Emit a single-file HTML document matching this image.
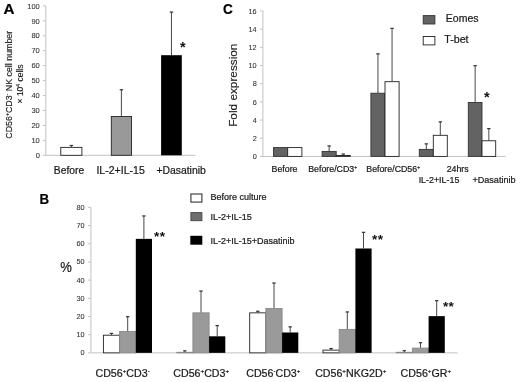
<!DOCTYPE html>
<html><head><meta charset="utf-8"><title>Figure</title>
<style>
html,body{margin:0;padding:0;background:#fff;}
svg{display:block;font-family:"Liberation Sans", Arial, sans-serif;filter:blur(0.35px);}
</style></head>
<body>
<svg width="520" height="382" viewBox="0 0 520 382">
<rect x="0" y="0" width="520" height="382" fill="#fff"/>
<line x1="45.80" y1="5.90" x2="45.80" y2="155.30" stroke="#c2c2c2" stroke-width="1"/>
<line x1="45.80" y1="155.30" x2="195.50" y2="155.30" stroke="#c2c2c2" stroke-width="1"/>
<line x1="42.80" y1="155.30" x2="45.80" y2="155.30" stroke="#c2c2c2" stroke-width="1"/>
<text x="39.80" y="158.00" font-size="7.5" text-anchor="end" font-weight="normal" fill="#333" stroke="#333" stroke-width="0.08" >0</text>
<line x1="42.80" y1="140.36" x2="45.80" y2="140.36" stroke="#c2c2c2" stroke-width="1"/>
<text x="39.80" y="143.06" font-size="7.5" text-anchor="end" font-weight="normal" fill="#333" stroke="#333" stroke-width="0.08" >10</text>
<line x1="42.80" y1="125.42" x2="45.80" y2="125.42" stroke="#c2c2c2" stroke-width="1"/>
<text x="39.80" y="128.12" font-size="7.5" text-anchor="end" font-weight="normal" fill="#333" stroke="#333" stroke-width="0.08" >20</text>
<line x1="42.80" y1="110.48" x2="45.80" y2="110.48" stroke="#c2c2c2" stroke-width="1"/>
<text x="39.80" y="113.18" font-size="7.5" text-anchor="end" font-weight="normal" fill="#333" stroke="#333" stroke-width="0.08" >30</text>
<line x1="42.80" y1="95.54" x2="45.80" y2="95.54" stroke="#c2c2c2" stroke-width="1"/>
<text x="39.80" y="98.24" font-size="7.5" text-anchor="end" font-weight="normal" fill="#333" stroke="#333" stroke-width="0.08" >40</text>
<line x1="42.80" y1="80.60" x2="45.80" y2="80.60" stroke="#c2c2c2" stroke-width="1"/>
<text x="39.80" y="83.30" font-size="7.5" text-anchor="end" font-weight="normal" fill="#333" stroke="#333" stroke-width="0.08" >50</text>
<line x1="42.80" y1="65.66" x2="45.80" y2="65.66" stroke="#c2c2c2" stroke-width="1"/>
<text x="39.80" y="68.36" font-size="7.5" text-anchor="end" font-weight="normal" fill="#333" stroke="#333" stroke-width="0.08" >60</text>
<line x1="42.80" y1="50.72" x2="45.80" y2="50.72" stroke="#c2c2c2" stroke-width="1"/>
<text x="39.80" y="53.42" font-size="7.5" text-anchor="end" font-weight="normal" fill="#333" stroke="#333" stroke-width="0.08" >70</text>
<line x1="42.80" y1="35.78" x2="45.80" y2="35.78" stroke="#c2c2c2" stroke-width="1"/>
<text x="39.80" y="38.48" font-size="7.5" text-anchor="end" font-weight="normal" fill="#333" stroke="#333" stroke-width="0.08" >80</text>
<line x1="42.80" y1="20.84" x2="45.80" y2="20.84" stroke="#c2c2c2" stroke-width="1"/>
<text x="39.80" y="23.54" font-size="7.5" text-anchor="end" font-weight="normal" fill="#333" stroke="#333" stroke-width="0.08" >90</text>
<line x1="42.80" y1="5.90" x2="45.80" y2="5.90" stroke="#c2c2c2" stroke-width="1"/>
<text x="39.80" y="8.60" font-size="7.5" text-anchor="end" font-weight="normal" fill="#333" stroke="#333" stroke-width="0.08" >100</text>
<line x1="71.35" y1="145.29" x2="71.35" y2="147.38" stroke="#333" stroke-width="0.9"/>
<line x1="69.65" y1="145.49" x2="73.05" y2="145.49" stroke="#333" stroke-width="1.2"/>
<rect x="60.80" y="147.38" width="21.10" height="7.92" fill="#fff" stroke="#222" stroke-width="0.9"/>
<line x1="121.40" y1="89.56" x2="121.40" y2="116.46" stroke="#333" stroke-width="0.9"/>
<line x1="119.70" y1="89.76" x2="123.10" y2="89.76" stroke="#333" stroke-width="1.2"/>
<rect x="111.30" y="116.46" width="20.20" height="38.84" fill="#999" stroke="#222" stroke-width="0.9"/>
<line x1="171.45" y1="11.88" x2="171.45" y2="55.20" stroke="#333" stroke-width="0.9"/>
<line x1="169.75" y1="12.08" x2="173.15" y2="12.08" stroke="#333" stroke-width="1.2"/>
<rect x="161.10" y="55.20" width="20.70" height="100.10" fill="#000" stroke="none" stroke-width="0.9"/>
<text x="69.00" y="173.50" font-size="10.3" text-anchor="middle" font-weight="normal" fill="#1a1a1a" stroke="#1a1a1a" stroke-width="0.22" >Before</text>
<text x="120.60" y="173.50" font-size="10.55" text-anchor="middle" font-weight="normal" fill="#1a1a1a" stroke="#1a1a1a" stroke-width="0.22" >IL-2+IL-15</text>
<text x="181.10" y="173.50" font-size="10.4" text-anchor="middle" font-weight="normal" fill="#1a1a1a" stroke="#1a1a1a" stroke-width="0.22" >+Dasatinib</text>
<text x="179.90" y="51.50" font-size="14.5" text-anchor="start" font-weight="bold" fill="#111" stroke="#111" stroke-width="0" >*</text>
<text x="3.50" y="14.30" font-size="15.2" text-anchor="start" font-weight="bold" fill="#000" stroke="#000" stroke-width="0.22" >A</text>
<text transform="translate(11.8,84.75) rotate(-90)" font-size="8.86" text-anchor="middle" fill="#1a1a1a" stroke="#1a1a1a" stroke-width="0.15">CD56<tspan dy="-2.92" font-size="5.14">+</tspan><tspan dy="2.92">CD3</tspan><tspan dy="-2.92" font-size="5.14">-</tspan><tspan dy="2.92"> NK cell number</tspan></text>
<text transform="translate(23.2,84.0) rotate(-90)" font-size="8.5" text-anchor="middle" fill="#1a1a1a" stroke="#1a1a1a" stroke-width="0.15">× 10<tspan dy="-2.81" font-size="4.93">4</tspan><tspan dy="2.81"> cells</tspan></text>
<line x1="262.90" y1="10.96" x2="262.90" y2="156.40" stroke="#c2c2c2" stroke-width="1"/>
<line x1="262.90" y1="156.40" x2="505.70" y2="156.40" stroke="#c2c2c2" stroke-width="1"/>
<line x1="259.90" y1="156.40" x2="262.90" y2="156.40" stroke="#c2c2c2" stroke-width="1"/>
<text x="256.70" y="159.15" font-size="7.3" text-anchor="end" font-weight="normal" fill="#333" stroke="#333" stroke-width="0.08" >0</text>
<line x1="259.90" y1="138.22" x2="262.90" y2="138.22" stroke="#c2c2c2" stroke-width="1"/>
<text x="256.70" y="140.97" font-size="7.3" text-anchor="end" font-weight="normal" fill="#333" stroke="#333" stroke-width="0.08" >2</text>
<line x1="259.90" y1="120.04" x2="262.90" y2="120.04" stroke="#c2c2c2" stroke-width="1"/>
<text x="256.70" y="122.79" font-size="7.3" text-anchor="end" font-weight="normal" fill="#333" stroke="#333" stroke-width="0.08" >4</text>
<line x1="259.90" y1="101.86" x2="262.90" y2="101.86" stroke="#c2c2c2" stroke-width="1"/>
<text x="256.70" y="104.61" font-size="7.3" text-anchor="end" font-weight="normal" fill="#333" stroke="#333" stroke-width="0.08" >6</text>
<line x1="259.90" y1="83.68" x2="262.90" y2="83.68" stroke="#c2c2c2" stroke-width="1"/>
<text x="256.70" y="86.43" font-size="7.3" text-anchor="end" font-weight="normal" fill="#333" stroke="#333" stroke-width="0.08" >8</text>
<line x1="259.90" y1="65.50" x2="262.90" y2="65.50" stroke="#c2c2c2" stroke-width="1"/>
<text x="256.70" y="68.25" font-size="7.3" text-anchor="end" font-weight="normal" fill="#333" stroke="#333" stroke-width="0.08" >10</text>
<line x1="259.90" y1="47.32" x2="262.90" y2="47.32" stroke="#c2c2c2" stroke-width="1"/>
<text x="256.70" y="50.07" font-size="7.3" text-anchor="end" font-weight="normal" fill="#333" stroke="#333" stroke-width="0.08" >12</text>
<line x1="259.90" y1="29.14" x2="262.90" y2="29.14" stroke="#c2c2c2" stroke-width="1"/>
<text x="256.70" y="31.89" font-size="7.3" text-anchor="end" font-weight="normal" fill="#333" stroke="#333" stroke-width="0.08" >14</text>
<line x1="259.90" y1="10.96" x2="262.90" y2="10.96" stroke="#c2c2c2" stroke-width="1"/>
<text x="256.70" y="13.71" font-size="7.3" text-anchor="end" font-weight="normal" fill="#333" stroke="#333" stroke-width="0.08" >16</text>
<rect x="273.50" y="147.58" width="14.20" height="8.82" fill="#636363" stroke="#333" stroke-width="0.9"/>
<rect x="287.70" y="147.58" width="14.20" height="8.82" fill="#fff" stroke="#222" stroke-width="0.9"/>
<line x1="329.15" y1="145.76" x2="329.15" y2="151.40" stroke="#333" stroke-width="0.9"/>
<line x1="327.45" y1="145.96" x2="330.85" y2="145.96" stroke="#333" stroke-width="1.2"/>
<line x1="343.25" y1="153.85" x2="343.25" y2="155.49" stroke="#333" stroke-width="0.9"/>
<line x1="341.55" y1="154.05" x2="344.95" y2="154.05" stroke="#333" stroke-width="1.2"/>
<rect x="322.10" y="151.40" width="14.10" height="5.00" fill="#636363" stroke="#333" stroke-width="0.9"/>
<rect x="336.20" y="155.49" width="14.10" height="0.91" fill="#fff" stroke="#222" stroke-width="0.9"/>
<line x1="377.95" y1="53.68" x2="377.95" y2="93.22" stroke="#333" stroke-width="0.9"/>
<line x1="376.25" y1="53.88" x2="379.65" y2="53.88" stroke="#333" stroke-width="1.2"/>
<line x1="392.05" y1="28.23" x2="392.05" y2="81.68" stroke="#333" stroke-width="0.9"/>
<line x1="390.35" y1="28.43" x2="393.75" y2="28.43" stroke="#333" stroke-width="1.2"/>
<rect x="370.90" y="93.22" width="14.10" height="63.18" fill="#636363" stroke="#333" stroke-width="0.9"/>
<rect x="385.00" y="81.68" width="14.10" height="74.72" fill="#fff" stroke="#222" stroke-width="0.9"/>
<line x1="426.30" y1="143.67" x2="426.30" y2="149.40" stroke="#333" stroke-width="0.9"/>
<line x1="424.60" y1="143.87" x2="428.00" y2="143.87" stroke="#333" stroke-width="1.2"/>
<line x1="440.30" y1="121.68" x2="440.30" y2="135.31" stroke="#333" stroke-width="0.9"/>
<line x1="438.60" y1="121.88" x2="442.00" y2="121.88" stroke="#333" stroke-width="1.2"/>
<rect x="419.30" y="149.40" width="14.00" height="7.00" fill="#636363" stroke="#333" stroke-width="0.9"/>
<rect x="433.30" y="135.31" width="14.00" height="21.09" fill="#fff" stroke="#222" stroke-width="0.9"/>
<line x1="475.15" y1="65.50" x2="475.15" y2="102.50" stroke="#333" stroke-width="0.9"/>
<line x1="473.45" y1="65.70" x2="476.85" y2="65.70" stroke="#333" stroke-width="1.2"/>
<line x1="488.85" y1="128.40" x2="488.85" y2="140.77" stroke="#333" stroke-width="0.9"/>
<line x1="487.15" y1="128.60" x2="490.55" y2="128.60" stroke="#333" stroke-width="1.2"/>
<rect x="468.30" y="102.50" width="13.70" height="53.90" fill="#636363" stroke="#333" stroke-width="0.9"/>
<rect x="482.00" y="140.77" width="13.70" height="15.63" fill="#fff" stroke="#222" stroke-width="0.9"/>
<text x="284.50" y="171.90" font-size="8.8" text-anchor="middle" font-weight="normal" fill="#1a1a1a" stroke="#1a1a1a" stroke-width="0.22" >Before</text>
<text x="332.70" y="171.90" font-size="8.8" text-anchor="middle" font-weight="normal" fill="#1a1a1a" stroke="#1a1a1a" stroke-width="0.22" >Before/CD3<tspan dy="-2.90" font-size="5.10">+</tspan></text>
<text x="393.20" y="171.90" font-size="8.8" text-anchor="middle" font-weight="normal" fill="#1a1a1a" stroke="#1a1a1a" stroke-width="0.22" >Before/CD56<tspan dy="-2.90" font-size="5.10">+</tspan></text>
<text x="457.70" y="172.00" font-size="8.8" text-anchor="middle" font-weight="normal" fill="#1a1a1a" stroke="#1a1a1a" stroke-width="0.22" >24hrs</text>
<text x="439.00" y="182.80" font-size="8.9" text-anchor="middle" font-weight="normal" fill="#1a1a1a" stroke="#1a1a1a" stroke-width="0.22" >IL-2+IL-15</text>
<text x="494.00" y="182.80" font-size="9.1" text-anchor="middle" font-weight="normal" fill="#1a1a1a" stroke="#1a1a1a" stroke-width="0.22" >+Dasatinib</text>
<text x="484.10" y="101.50" font-size="14.5" text-anchor="start" font-weight="bold" fill="#111" stroke="#111" stroke-width="0" >*</text>
<text x="222.90" y="14.30" font-size="14.8" text-anchor="start" font-weight="bold" fill="#000" stroke="#000" stroke-width="0.22" textLength="9.8" lengthAdjust="spacingAndGlyphs">C</text>
<text transform="translate(237.3,85.2) rotate(-90)" font-size="11.8" text-anchor="middle" fill="#1a1a1a" stroke="#1a1a1a" stroke-width="0.15">Fold expression</text>
<rect x="423.20" y="15.60" width="11.70" height="8.40" fill="#636363" stroke="#333" stroke-width="0.9"/>
<rect x="423.20" y="36.50" width="11.70" height="8.40" fill="#fff" stroke="#222" stroke-width="0.9"/>
<text x="445.80" y="22.20" font-size="10.5" text-anchor="start" font-weight="normal" fill="#1a1a1a" stroke="#1a1a1a" stroke-width="0.22" >Eomes</text>
<text x="444.20" y="42.90" font-size="10.7" text-anchor="start" font-weight="normal" fill="#1a1a1a" stroke="#1a1a1a" stroke-width="0.22" >T-bet</text>
<line x1="90.90" y1="207.41" x2="90.90" y2="352.85" stroke="#c2c2c2" stroke-width="1"/>
<line x1="90.90" y1="352.85" x2="457.60" y2="352.85" stroke="#c2c2c2" stroke-width="1"/>
<line x1="87.90" y1="352.85" x2="90.90" y2="352.85" stroke="#c2c2c2" stroke-width="1"/>
<text x="84.60" y="355.30" font-size="7.3" text-anchor="end" font-weight="normal" fill="#333" stroke="#333" stroke-width="0.08" >0</text>
<line x1="87.90" y1="334.67" x2="90.90" y2="334.67" stroke="#c2c2c2" stroke-width="1"/>
<text x="84.60" y="337.12" font-size="7.3" text-anchor="end" font-weight="normal" fill="#333" stroke="#333" stroke-width="0.08" >10</text>
<line x1="87.90" y1="316.49" x2="90.90" y2="316.49" stroke="#c2c2c2" stroke-width="1"/>
<text x="84.60" y="318.94" font-size="7.3" text-anchor="end" font-weight="normal" fill="#333" stroke="#333" stroke-width="0.08" >20</text>
<line x1="87.90" y1="298.31" x2="90.90" y2="298.31" stroke="#c2c2c2" stroke-width="1"/>
<text x="84.60" y="300.76" font-size="7.3" text-anchor="end" font-weight="normal" fill="#333" stroke="#333" stroke-width="0.08" >30</text>
<line x1="87.90" y1="280.13" x2="90.90" y2="280.13" stroke="#c2c2c2" stroke-width="1"/>
<text x="84.60" y="282.58" font-size="7.3" text-anchor="end" font-weight="normal" fill="#333" stroke="#333" stroke-width="0.08" >40</text>
<line x1="87.90" y1="261.95" x2="90.90" y2="261.95" stroke="#c2c2c2" stroke-width="1"/>
<text x="84.60" y="264.40" font-size="7.3" text-anchor="end" font-weight="normal" fill="#333" stroke="#333" stroke-width="0.08" >50</text>
<line x1="87.90" y1="243.77" x2="90.90" y2="243.77" stroke="#c2c2c2" stroke-width="1"/>
<text x="84.60" y="246.22" font-size="7.3" text-anchor="end" font-weight="normal" fill="#333" stroke="#333" stroke-width="0.08" >60</text>
<line x1="87.90" y1="225.59" x2="90.90" y2="225.59" stroke="#c2c2c2" stroke-width="1"/>
<text x="84.60" y="228.04" font-size="7.3" text-anchor="end" font-weight="normal" fill="#333" stroke="#333" stroke-width="0.08" >70</text>
<line x1="87.90" y1="207.41" x2="90.90" y2="207.41" stroke="#c2c2c2" stroke-width="1"/>
<text x="84.60" y="209.86" font-size="7.3" text-anchor="end" font-weight="normal" fill="#333" stroke="#333" stroke-width="0.08" >80</text>
<line x1="111.50" y1="333.22" x2="111.50" y2="335.22" stroke="#333" stroke-width="0.9"/>
<line x1="109.80" y1="333.42" x2="113.20" y2="333.42" stroke="#333" stroke-width="1.2"/>
<rect x="103.40" y="335.22" width="16.20" height="17.63" fill="#fff" stroke="#222" stroke-width="0.9"/>
<line x1="127.70" y1="316.49" x2="127.70" y2="331.40" stroke="#333" stroke-width="0.9"/>
<line x1="126.00" y1="316.69" x2="129.40" y2="316.69" stroke="#333" stroke-width="1.2"/>
<rect x="119.60" y="331.40" width="16.20" height="21.45" fill="#9a9a9a" stroke="#888" stroke-width="0.9"/>
<line x1="143.90" y1="215.77" x2="143.90" y2="238.86" stroke="#333" stroke-width="0.9"/>
<line x1="142.20" y1="215.97" x2="145.60" y2="215.97" stroke="#333" stroke-width="1.2"/>
<rect x="135.80" y="238.86" width="16.20" height="113.99" fill="#000" stroke="none" stroke-width="0.9"/>
<line x1="184.80" y1="350.67" x2="184.80" y2="352.30" stroke="#333" stroke-width="0.9"/>
<line x1="183.10" y1="350.87" x2="186.50" y2="350.87" stroke="#333" stroke-width="1.2"/>
<rect x="176.70" y="352.30" width="16.20" height="0.55" fill="#fff" stroke="#8a8a8a" stroke-width="0.9"/>
<line x1="201.00" y1="290.86" x2="201.00" y2="312.85" stroke="#333" stroke-width="0.9"/>
<line x1="199.30" y1="291.06" x2="202.70" y2="291.06" stroke="#333" stroke-width="1.2"/>
<rect x="192.90" y="312.85" width="16.20" height="40.00" fill="#9a9a9a" stroke="#888" stroke-width="0.9"/>
<line x1="217.20" y1="325.40" x2="217.20" y2="336.31" stroke="#333" stroke-width="0.9"/>
<line x1="215.50" y1="325.60" x2="218.90" y2="325.60" stroke="#333" stroke-width="1.2"/>
<rect x="209.10" y="336.31" width="16.20" height="16.54" fill="#000" stroke="none" stroke-width="0.9"/>
<line x1="257.80" y1="311.04" x2="257.80" y2="312.85" stroke="#333" stroke-width="0.9"/>
<line x1="256.10" y1="311.24" x2="259.50" y2="311.24" stroke="#333" stroke-width="1.2"/>
<rect x="249.70" y="312.85" width="16.20" height="40.00" fill="#fff" stroke="#222" stroke-width="0.9"/>
<line x1="274.00" y1="282.86" x2="274.00" y2="308.49" stroke="#333" stroke-width="0.9"/>
<line x1="272.30" y1="283.06" x2="275.70" y2="283.06" stroke="#333" stroke-width="1.2"/>
<rect x="265.90" y="308.49" width="16.20" height="44.36" fill="#9a9a9a" stroke="#888" stroke-width="0.9"/>
<line x1="290.20" y1="326.67" x2="290.20" y2="332.49" stroke="#333" stroke-width="0.9"/>
<line x1="288.50" y1="326.87" x2="291.90" y2="326.87" stroke="#333" stroke-width="1.2"/>
<rect x="282.10" y="332.49" width="16.20" height="20.36" fill="#000" stroke="none" stroke-width="0.9"/>
<line x1="331.10" y1="348.31" x2="331.10" y2="350.12" stroke="#333" stroke-width="0.9"/>
<line x1="329.40" y1="348.50" x2="332.80" y2="348.50" stroke="#333" stroke-width="1.2"/>
<rect x="323.00" y="350.12" width="16.20" height="2.73" fill="#fff" stroke="#222" stroke-width="0.9"/>
<line x1="347.30" y1="311.76" x2="347.30" y2="329.40" stroke="#333" stroke-width="0.9"/>
<line x1="345.60" y1="311.96" x2="349.00" y2="311.96" stroke="#333" stroke-width="1.2"/>
<rect x="339.20" y="329.40" width="16.20" height="23.45" fill="#9a9a9a" stroke="#888" stroke-width="0.9"/>
<line x1="363.50" y1="232.13" x2="363.50" y2="248.50" stroke="#333" stroke-width="0.9"/>
<line x1="361.80" y1="232.33" x2="365.20" y2="232.33" stroke="#333" stroke-width="1.2"/>
<rect x="355.40" y="248.50" width="16.20" height="104.35" fill="#000" stroke="none" stroke-width="0.9"/>
<line x1="404.30" y1="350.49" x2="404.30" y2="352.30" stroke="#333" stroke-width="0.9"/>
<line x1="402.60" y1="350.69" x2="406.00" y2="350.69" stroke="#333" stroke-width="1.2"/>
<rect x="396.20" y="352.30" width="16.20" height="0.55" fill="#fff" stroke="#8a8a8a" stroke-width="0.9"/>
<line x1="420.50" y1="342.49" x2="420.50" y2="348.12" stroke="#333" stroke-width="0.9"/>
<line x1="418.80" y1="342.69" x2="422.20" y2="342.69" stroke="#333" stroke-width="1.2"/>
<rect x="412.40" y="348.12" width="16.20" height="4.73" fill="#9a9a9a" stroke="#888" stroke-width="0.9"/>
<line x1="436.70" y1="300.49" x2="436.70" y2="316.13" stroke="#333" stroke-width="0.9"/>
<line x1="435.00" y1="300.69" x2="438.40" y2="300.69" stroke="#333" stroke-width="1.2"/>
<rect x="428.60" y="316.13" width="16.20" height="36.72" fill="#000" stroke="none" stroke-width="0.9"/>
<text x="122.60" y="376.50" font-size="10.65" text-anchor="middle" font-weight="normal" fill="#1a1a1a" stroke="#1a1a1a" stroke-width="0.22" >CD56<tspan dy="-3.51" font-size="6.18">+</tspan><tspan dy="3.51">CD3</tspan><tspan dy="-3.51" font-size="6.18">-</tspan></text>
<text x="201.20" y="376.50" font-size="10.65" text-anchor="middle" font-weight="normal" fill="#1a1a1a" stroke="#1a1a1a" stroke-width="0.22" >CD56<tspan dy="-3.51" font-size="6.18">+</tspan><tspan dy="3.51">CD3</tspan><tspan dy="-3.51" font-size="6.18">+</tspan></text>
<text x="273.30" y="376.50" font-size="10.65" text-anchor="middle" font-weight="normal" fill="#1a1a1a" stroke="#1a1a1a" stroke-width="0.22" >CD56<tspan dy="-3.51" font-size="6.18">-</tspan><tspan dy="3.51">CD3</tspan><tspan dy="-3.51" font-size="6.18">+</tspan></text>
<text x="350.70" y="376.50" font-size="10.65" text-anchor="middle" font-weight="normal" fill="#1a1a1a" stroke="#1a1a1a" stroke-width="0.22" >CD56<tspan dy="-3.51" font-size="6.18">+</tspan><tspan dy="3.51">NKG2D</tspan><tspan dy="-3.51" font-size="6.18">+</tspan></text>
<text x="425.80" y="376.50" font-size="10.65" text-anchor="middle" font-weight="normal" fill="#1a1a1a" stroke="#1a1a1a" stroke-width="0.22" >CD56<tspan dy="-3.51" font-size="6.18">+</tspan><tspan dy="3.51">GR</tspan><tspan dy="-3.51" font-size="6.18">+</tspan></text>
<text x="154.10" y="240.60" font-size="13.6" text-anchor="start" font-weight="bold" fill="#111" stroke="#111" stroke-width="0" letter-spacing="0.3">**</text>
<text x="372.10" y="244.30" font-size="13.6" text-anchor="start" font-weight="bold" fill="#111" stroke="#111" stroke-width="0" letter-spacing="0.3">**</text>
<text x="442.90" y="310.60" font-size="13.6" text-anchor="start" font-weight="bold" fill="#111" stroke="#111" stroke-width="0" letter-spacing="0.3">**</text>
<text x="39.50" y="203.70" font-size="14.7" text-anchor="start" font-weight="bold" fill="#000" stroke="#000" stroke-width="0.22" textLength="9.6" lengthAdjust="spacingAndGlyphs">B</text>
<text x="60.30" y="271.90" font-size="14.0" text-anchor="start" font-weight="normal" fill="#1a1a1a" stroke="#1a1a1a" stroke-width="0.22" textLength="11.6" lengthAdjust="spacingAndGlyphs">%</text>
<rect x="190.90" y="194.00" width="11.00" height="8.10" fill="#fff" stroke="#333" stroke-width="1.1"/>
<rect x="190.90" y="212.60" width="11.00" height="8.10" fill="#6e6e6e" stroke="#444" stroke-width="0.9"/>
<rect x="190.30" y="235.80" width="12.00" height="8.90" fill="#000" stroke="none" stroke-width="0.9"/>
<text x="210.40" y="200.10" font-size="9.0" text-anchor="start" font-weight="normal" fill="#1a1a1a" stroke="#1a1a1a" stroke-width="0.22" >Before culture</text>
<text x="210.40" y="220.30" font-size="9.0" text-anchor="start" font-weight="normal" fill="#1a1a1a" stroke="#1a1a1a" stroke-width="0.22" >IL-2+IL-15</text>
<text x="210.40" y="243.70" font-size="9.0" text-anchor="start" font-weight="normal" fill="#1a1a1a" stroke="#1a1a1a" stroke-width="0.22" >IL-2+IL-15+Dasatinib</text>
</svg>
</body></html>
